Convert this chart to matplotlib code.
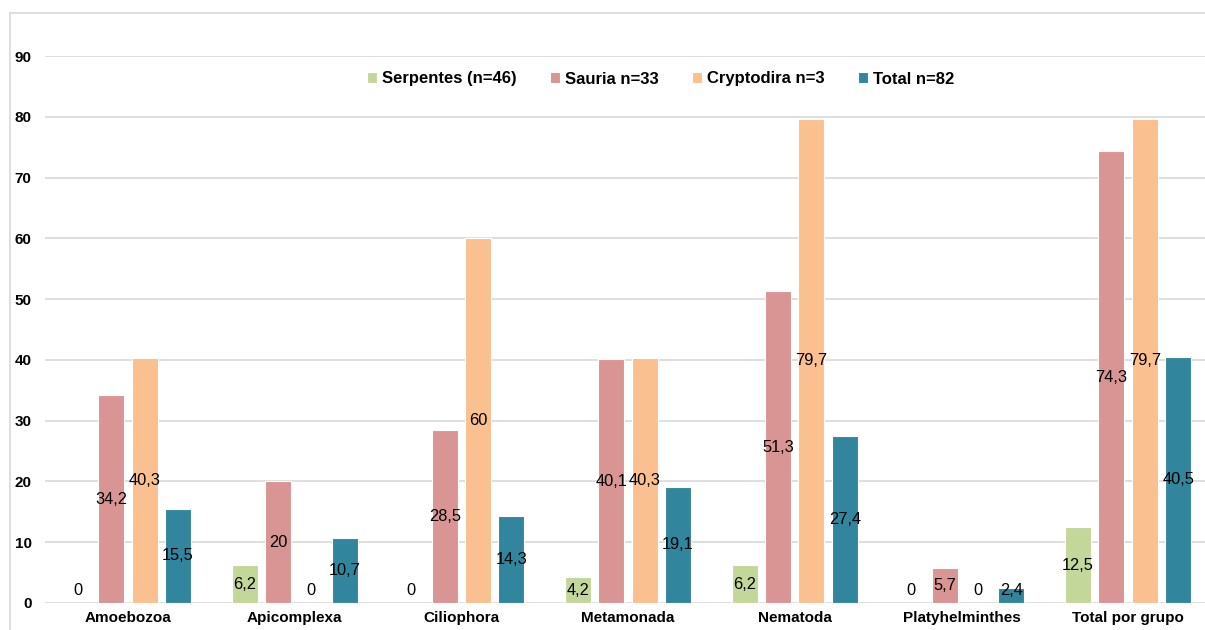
import matplotlib
matplotlib.use("Agg")
import matplotlib.pyplot as plt
from matplotlib.lines import Line2D
import numpy as np

plt.rcParams['font.family'] = ['Liberation Sans', 'DejaVu Sans']

categories = ["Amoebozoa", "Apicomplexa", "Ciliophora", "Metamonada",
              "Nematoda", "Platyhelminthes", "Total por grupo"]
series_names = ["Serpentes (n=46)", "Sauria n=33", "Cryptodira n=3", "Total n=82"]
serpentes = [0, 6.2, 0, 4.2, 6.2, 0, 12.5]
sauria = [34.2, 20, 28.5, 40.1, 51.3, 5.7, 74.3]
cryptodira = [40.3, 0, 60, 40.3, 79.7, 0, 79.7]
total = [15.5, 10.7, 14.3, 19.1, 27.4, 2.4, 40.5]
y_ticks = [0, 10, 20, 30, 40, 50, 60, 70, 80, 90]

colors = ["#C4D79B", "#D99594", "#FAC090", "#31859C"]

W, H = 1205, 630
fig = plt.figure(figsize=(W / 100, H / 100), dpi=100, facecolor="white")

# outer chart frame (top and left edges)
frame_col = "#D9D9D9"
fig.add_artist(Line2D([9.5 / W, 1.02], [(H - 13) / H] * 2,
                      transform=fig.transFigure, color=frame_col, linewidth=1.2))
fig.add_artist(Line2D([9.5 / W] * 2, [-0.02, (H - 13) / H],
                      transform=fig.transFigure, color=frame_col, linewidth=1.2))

ax = fig.add_axes([44.7 / W, (H - 603) / H, 1166.7 / W, (603 - 56) / H])
ax.patch.set_visible(False)

def fmt(v):
    if float(v).is_integer():
        return str(int(v))
    return f"{v:.1f}".replace(".", ",")

x = np.arange(len(categories))
step = 0.2
width = 0.157
all_series = [serpentes, sauria, cryptodira, total]
handles = []
for i, (vals, name, col) in enumerate(zip(all_series, series_names, colors)):
    pos = x + (i - 1.5) * step
    b = ax.bar(pos, vals, width=width, color=col, edgecolor="white",
               linewidth=0.8, label=name, zorder=3)
    handles.append(b)
    for p, v in zip(pos, vals):
        ax.text(p, max(v / 2, 2.0), fmt(v), ha="center", va="center",
                fontsize=11.8, color="black", zorder=4)

ax.set_xlim(-0.5, len(categories) - 0.5)
ax.set_ylim(0, 90)
ax.set_yticks(y_ticks)
ax.set_yticklabels([str(t) for t in y_ticks], fontsize=11, fontweight="bold")
ax.set_xticks(x)
ax.set_xticklabels(categories, fontsize=11, fontweight="bold")
ax.tick_params(axis="both", length=0)
ax.tick_params(axis="y", pad=9.5)
ax.tick_params(axis="x", pad=6)
ax.grid(axis="y", color="#D9D9D9", linewidth=1.2, zorder=0)
for s in ax.spines.values():
    s.set_visible(False)

fig.legend(handles=handles, labels=series_names, loc="center",
           bbox_to_anchor=(661 / W, (H - 79) / H), ncol=4, frameon=False,
           prop={"size": 12, "weight": "bold"}, handlelength=0.6,
           handleheight=0.6, handletextpad=0.3, columnspacing=2.0)

fig.savefig("out.png", dpi=100, facecolor="white")
